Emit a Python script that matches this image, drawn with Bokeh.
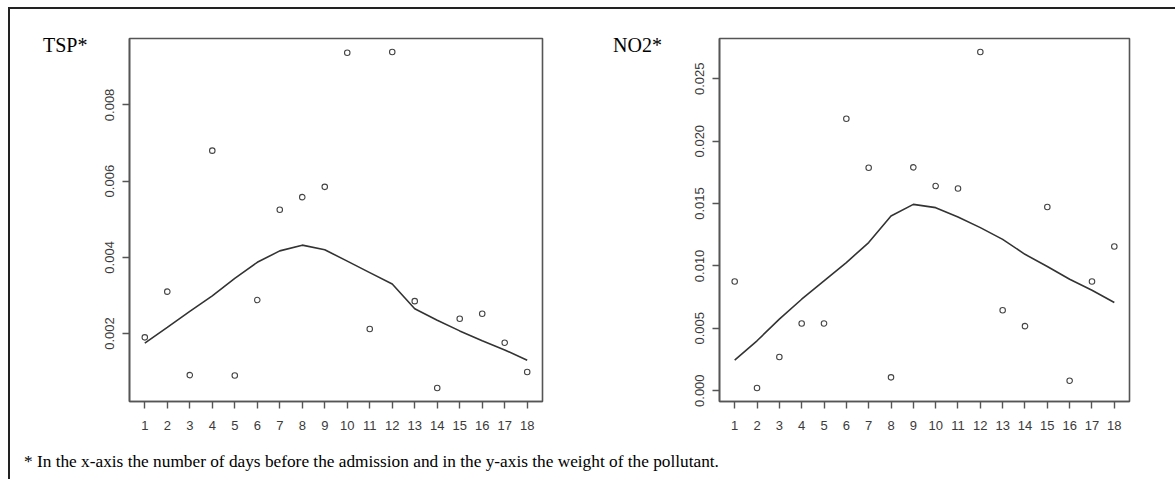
from bokeh.plotting import figure
from bokeh.models import Range1d, FixedTicker, PrintfTickFormatter, Div
from bokeh.layouts import row, column
from bokeh.embed import file_html
from bokeh.resources import INLINE

# ---- data ----
days = list(range(1, 19))

tsp_points = [0.0019, 0.0031, 0.00091, 0.0068, 0.0009, 0.00288, 0.00525, 0.00558, 0.00585,
              0.00937, 0.00212, 0.00939, 0.00285, 0.00057, 0.00239, 0.00252, 0.00176, 0.00099]
tsp_smooth = [0.00175, 0.00216, 0.00258, 0.00299, 0.00345, 0.00387, 0.00417, 0.00432, 0.0042,
              0.0039, 0.0036, 0.0033, 0.00265, 0.00235, 0.00207, 0.00181, 0.00157, 0.0013]
no2_points = [0.00875, 0.00021, 0.0027, 0.00539, 0.00539, 0.02179, 0.01787, 0.00107, 0.0179,
              0.0164, 0.01621, 0.02715, 0.00645, 0.00517, 0.01472, 0.0008, 0.00875, 0.01155]
no2_smooth = [0.00245, 0.004, 0.00573, 0.00733, 0.0088, 0.01027, 0.01187, 0.014, 0.01493,
              0.01467, 0.01392, 0.01307, 0.01213, 0.01093, 0.00995, 0.00893, 0.00805, 0.00707]
tsp_ticks = [0.002, 0.004, 0.006, 0.008]
no2_ticks = [0.0, 0.005, 0.010, 0.015, 0.020, 0.025]

titles = ["TSP*", "NO2*"]
caption = "* In the x-axis the number of days before the admission and in the y-axis the weight of the pollutant."

SERIF = "Liberation Serif"
SANS = "Liberation Sans"
BOX = "#555555"
INK = "#3a3a3a"


def panel(width, height, bl, br, bt, bb, pts, smooth, yticks):
    lo, hi = min(pts), max(pts)
    pad = 0.04 * (hi - lo)
    xpad = 0.04 * (max(days) - min(days))
    p = figure(width=width, height=height, output_backend="svg", toolbar_location=None,
               x_range=Range1d(min(days) - xpad, max(days) + xpad),
               y_range=Range1d(lo - pad, hi + pad),
               min_border_left=bl, min_border_right=br, min_border_top=bt, min_border_bottom=bb)
    p.background_fill_color = "white"
    p.border_fill_color = "white"
    p.outline_line_color = BOX
    p.outline_line_width = 1.6
    p.xgrid.visible = False
    p.ygrid.visible = False

    p.xaxis.ticker = FixedTicker(ticks=days)
    p.yaxis.ticker = FixedTicker(ticks=yticks)
    p.yaxis.formatter = PrintfTickFormatter(format="%.3f")
    for ax in (p.xaxis[0], p.yaxis[0]):
        ax.axis_line_color = BOX
        ax.axis_line_width = 1.6
        ax.major_tick_line_color = BOX
        ax.major_tick_line_width = 1.4
        ax.major_tick_out = 7
        ax.major_tick_in = 0
        ax.minor_tick_line_color = None
        ax.major_label_text_font = SANS
        ax.major_label_text_font_size = "13px"
        ax.major_label_text_color = INK
    p.xaxis.major_label_standoff = 12
    p.yaxis.major_label_standoff = 8
    p.yaxis.major_label_orientation = "vertical"

    p.line(days, smooth, line_color="#333333", line_width=1.6)
    p.scatter(days, pts, marker="circle", size=5.5, fill_color=None,
              line_color="#444444", line_width=1.1)
    return p


def title_div(text, pad_left):
    return Div(text=f'<div style="font-family:\'{SERIF}\';font-size:20px;line-height:1;'
                    f'color:black;padding-left:{pad_left}px;padding-top:26px;'
                    f'white-space:nowrap">{text}</div>',
               width=80, height=431, margin=(0, 0, 0, 0))


p1 = panel(500, 431, 39, 48, 28, 38, tsp_points, tsp_smooth, tsp_ticks)
p2 = panel(505, 431, 49, 46, 29, 39, no2_points, no2_smooth, no2_ticks)
t1 = title_div(titles[0], 33)
t2 = title_div(titles[1], 23)

cap = Div(text=f'<div style="font-family:\'{SERIF}\';font-size:17.3px;color:black;'
               f'padding-left:14px;padding-top:10px;white-space:nowrap">{caption}</div>',
          width=1165, height=39, margin=(0, 0, 0, 0))

left_blank = Div(text="", width=8, height=479, margin=(0, 0, 0, 0))
top_blank = Div(text="", width=1167, height=7, margin=(0, 0, 0, 0))
top_line = Div(text="", width=1167, height=2, margin=(0, 0, 0, 0),
               styles={"background-color": "#222222"})
left_line = Div(text="", width=2, height=470, margin=(0, 0, 0, 0),
                styles={"background-color": "#222222"})

content = column(row(t1, p1, t2, p2), cap)
layout = row(left_blank,
             column(top_blank, top_line, row(left_line, content)))

open("out.html", "w").write(file_html(layout, INLINE))
